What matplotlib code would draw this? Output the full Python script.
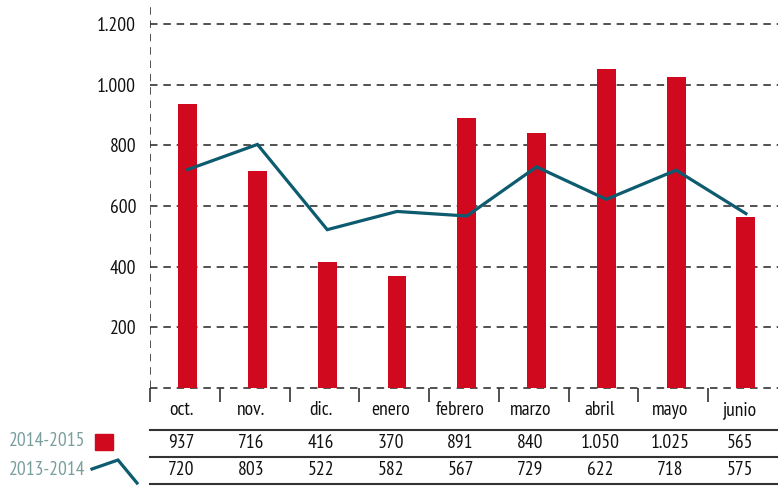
import matplotlib
matplotlib.use("Agg")
import matplotlib.pyplot as plt
from matplotlib.lines import Line2D
from matplotlib.patches import Rectangle

plt.rcParams['font.family'] = ['PT Sans Narrow', 'DejaVu Sans']

months = ["oct.", "nov.", "dic.", "enero", "febrero", "marzo", "abril", "mayo", "junio"]
s2015 = [937, 716, 416, 370, 891, 840, 1050, 1025, 565]
s2014 = [720, 803, 522, 582, 567, 729, 622, 718, 575]
label2015 = "2014-2015"
label2014 = "2013-2014"
yticks = [200, 400, 600, 800, 1000, 1200]

def fmt(v):
    return f"{v:,}".replace(",", ".")

RED = "#D0091E"
TEAL = "#0D5B6F"
LEG = "#7A9E9E"
DARK = "#333333"
TXT = "#111111"
FS = 14

W, H = 778, 486
fig = plt.figure(figsize=(W / 100, H / 100), dpi=100)
ax = fig.add_axes([150 / W, 1 - 388 / H, 628 / W, 383 / H])
n = len(months)
ax.set_xlim(0, n)
ax.set_ylim(0, 1262.6)

bx = [i + 0.54 for i in range(n)]
ax.bar(bx, s2015, width=0.27, color=RED, zorder=3)
ax.plot(bx, s2014, color=TEAL, lw=2.3, zorder=4, solid_joinstyle='miter')

for v in [0] + yticks:
    ax.axhline(v, color=DARK, lw=1.2, ls=(0, (4.5, 3.5)), zorder=1, clip_on=False)
ax.axvline(0, color=DARK, lw=1.2, ls=(0, (4.5, 3.5)), zorder=1)

for s in ax.spines.values():
    s.set_visible(False)

ax.set_yticks(yticks)
ax.set_yticklabels([fmt(v) for v in yticks], fontsize=FS, color=TXT)
ax.tick_params(axis='y', length=0, pad=10)
ax.set_xticks(range(n))
ax.set_xticklabels([])
ax.tick_params(axis='x', length=10, width=1.2, color=DARK, direction='out')

# table texts
def fx(xd):
    return (150 + xd * 628 / n) / W

for i, m in enumerate(months):
    x = fx(i + 0.45)
    fig.text(x, 1 - 410 / H, m, ha='center', va='center', fontsize=FS, color=TXT)
    fig.text(x, 1 - 443 / H, fmt(s2015[i]), ha='center', va='center', fontsize=FS, color=TXT)
    fig.text(x, 1 - 470 / H, fmt(s2014[i]), ha='center', va='center', fontsize=FS, color=TXT)

for yp in [430, 457, 484]:
    fig.add_artist(Line2D([150 / W, 1.0], [1 - yp / H, 1 - yp / H], color=DARK, lw=1.5))

# legend
fig.text(85 / W, 1 - 441 / H, label2015, ha='right', va='center', fontsize=FS, color=LEG)
fig.text(85 / W, 1 - 470 / H, label2014, ha='right', va='center', fontsize=FS, color=LEG)
fig.add_artist(Rectangle((95 / W, 1 - 450 / H), 18 / W, 16 / H, color=RED, transform=fig.transFigure))
fig.add_artist(Line2D([92 / W, 118 / W, 137 / W], [1 - 469 / H, 1 - 460 / H, 1 - 483 / H],
                      color=TEAL, lw=2.3, solid_joinstyle='miter'))

fig.savefig("out.png", dpi=100)
